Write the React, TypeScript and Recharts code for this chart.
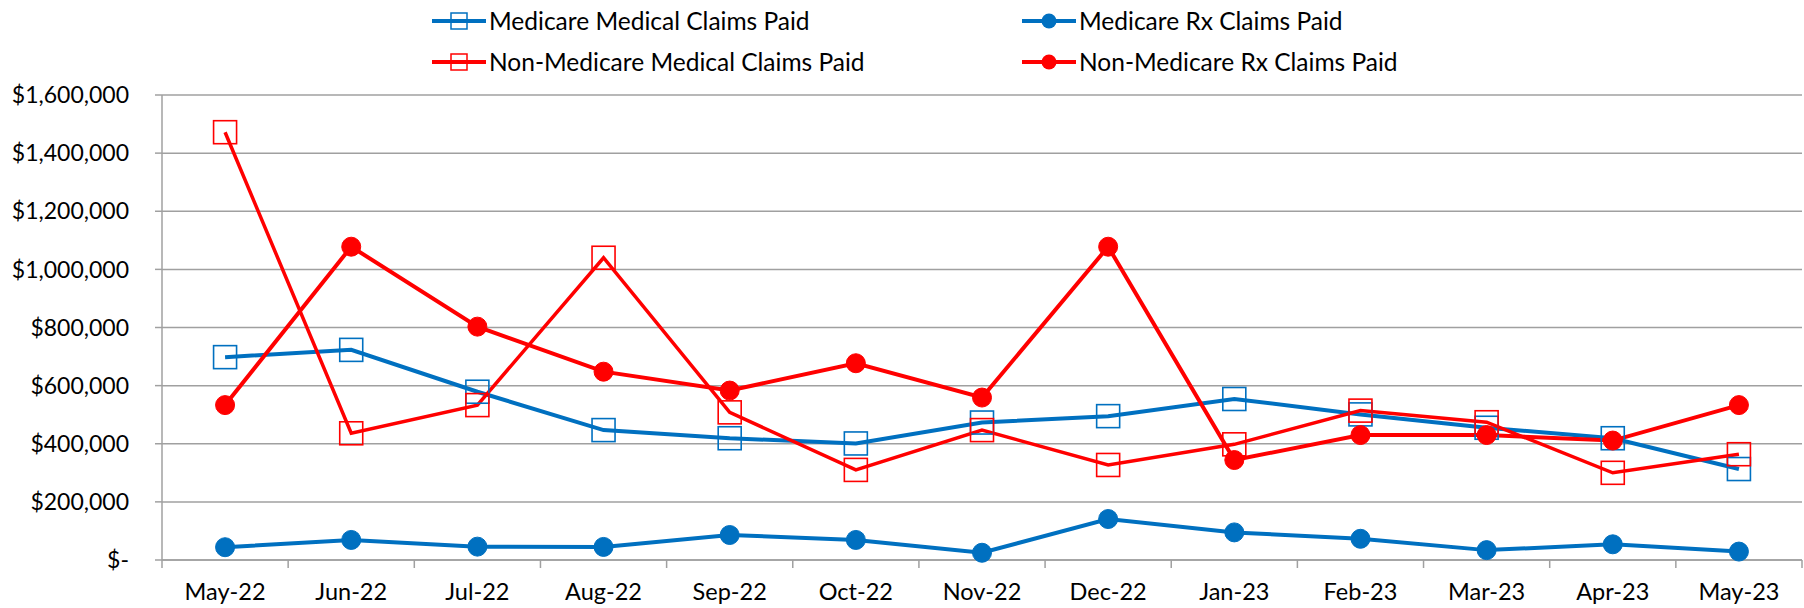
import React from 'react';
import { ComposedChart, Line, XAxis, YAxis, CartesianGrid, Legend } from 'recharts';

const categories = ['May-22', 'Jun-22', 'Jul-22', 'Aug-22', 'Sep-22', 'Oct-22', 'Nov-22', 'Dec-22', 'Jan-23', 'Feb-23', 'Mar-23', 'Apr-23', 'May-23'];
const medicareMedical = [698000, 723000, 579000, 447000, 419000, 401000, 473000, 495000, 554000, 501000, 455000, 419000, 313000];
const medicareRx = [44000, 69000, 46000, 45000, 86000, 69000, 25000, 141000, 95000, 73000, 34000, 54000, 29000];
const nonMedicareMedical = [1472000, 436000, 533000, 1040000, 508000, 310000, 447000, 327000, 398000, 514000, 474000, 300000, 364000];
const nonMedicareRx = [533000, 1078000, 803000, 648000, 583000, 677000, 559000, 1078000, 344000, 430000, 430000, 411000, 533000];
const yTicks = [0, 200000, 400000, 600000, 800000, 1000000, 1200000, 1400000, 1600000];

const BLUE = '#0070C0';
const RED = '#FF0000';
const GRID = '#A0A0A0';
const FONT = 'Lato, "DejaVu Sans", sans-serif';

const W = 1804;
const H = 608;
const M_LEFT = 0;
const Y_W = 162;
const M_RIGHT = 2;
const PLOT_W = W - M_LEFT - Y_W - M_RIGHT;
const BW = PLOT_W / categories.length;

const data = categories.map((c, i) => ({
  month: c,
  mm: medicareMedical[i],
  mrx: medicareRx[i],
  nmm: nonMedicareMedical[i],
  nrx: nonMedicareRx[i],
}));

const fmt = (v: number) => (v === 0 ? '$-' : '$' + v.toLocaleString('en-US'));

const SquareDot = (color: string) => (props: any) => {
  const { cx, cy } = props;
  if (cx == null || cy == null) return null;
  const s = 23;
  return <rect x={cx - s / 2} y={cy - s / 2} width={s} height={s} fill="none" stroke={color} strokeWidth={1.6} />;
};
const CircleDot = (color: string) => (props: any) => {
  const { cx, cy } = props;
  if (cx == null || cy == null) return null;
  return <circle cx={cx} cy={cy} r={9.5} fill={color} stroke={color} strokeWidth={1} />;
};

const XTick = (props: any) => {
  const { x, y, payload, index } = props;
  const axisY = y - 8;
  return (
    <g>
      <line x1={x - BW / 2} x2={x - BW / 2} y1={axisY} y2={axisY + 8} stroke={GRID} strokeWidth={1.5} />
      {index === categories.length - 1 && (
        <line x1={x + BW / 2} x2={x + BW / 2} y1={axisY} y2={axisY + 8} stroke={GRID} strokeWidth={1.5} />
      )}
      <text x={x} y={axisY + 40} textAnchor="middle" fill="#000" fontSize={23.5} fontFamily={FONT}>
        {payload.value}
      </text>
    </g>
  );
};

const legendPos: Record<string, { left: number; top: number }> = {
  mm: { left: 432, top: 21 },
  mrx: { left: 1022, top: 21 },
  nmm: { left: 432, top: 62 },
  nrx: { left: 1022, top: 62 },
};

const LegendContent = (props: any) => {
  const { payload } = props;
  return (
    <div style={{ position: 'relative', width: W, height: 90 }}>
      {(payload || []).map((p: any) => {
        const key = p.dataKey as string;
        const pos = legendPos[key];
        if (!pos) return null;
        const isSquare = key === 'mm' || key === 'nmm';
        return (
          <div key={key} style={{ position: 'absolute', left: pos.left, top: pos.top - 15, height: 30, display: 'flex', alignItems: 'center', whiteSpace: 'nowrap' }}>
            <svg width={54} height={30} style={{ display: 'block' }}>
              <line x1={0} x2={54} y1={15} y2={15} stroke={p.color} strokeWidth={4} />
              {isSquare ? (
                <rect x={27 - 8} y={15 - 8} width={16} height={16} fill="none" stroke={p.color} strokeWidth={1.5} />
              ) : (
                <circle cx={27} cy={15} r={7.5} fill={p.color} />
              )}
            </svg>
            <span style={{ marginLeft: 3, fontFamily: FONT, fontSize: 24.5, color: '#000', lineHeight: '30px' }}>{p.value}</span>
          </div>
        );
      })}
    </div>
  );
};

export default function App() {
  return (
    <div style={{ position: 'absolute', left: 0, top: 0, width: W, height: H, background: '#fff' }}>
      <ComposedChart width={W} height={H} data={data} margin={{ top: 95, right: M_RIGHT, bottom: 0, left: M_LEFT }}>
        <CartesianGrid vertical={false} stroke={GRID} strokeWidth={1.5} />
        <XAxis
          dataKey="month"
          scale="band"
          axisLine={{ stroke: GRID, strokeWidth: 1.5 }}
          tickLine={false}
          tickSize={8}
          tickMargin={0}
          height={48}
          interval={0}
          tick={<XTick />}
        />
        <YAxis
          domain={[0, 1600000]}
          ticks={yTicks}
          tickFormatter={fmt}
          width={Y_W}
          axisLine={{ stroke: GRID, strokeWidth: 1.5 }}
          tickLine={{ stroke: GRID, strokeWidth: 1.5 }}
          tickSize={7}
          tickMargin={26}
          tick={{ fill: '#000', fontSize: 23, fontFamily: FONT }}
          interval={0}
        />
        <Legend
          layout="vertical"
          align="center"
          verticalAlign="middle"
          wrapperStyle={{ top: 0, left: 0, width: W, height: 90 }}
          content={<LegendContent />}
        />
        <Line name="Medicare Medical Claims Paid" dataKey="mm" stroke={BLUE} strokeWidth={4} dot={SquareDot(BLUE)} activeDot={false} isAnimationActive={false} />
        <Line name="Medicare Rx Claims Paid" dataKey="mrx" stroke={BLUE} strokeWidth={4} dot={CircleDot(BLUE)} activeDot={false} isAnimationActive={false} />
        <Line name="Non-Medicare Medical Claims Paid" dataKey="nmm" stroke={RED} strokeWidth={3.5} dot={SquareDot(RED)} activeDot={false} isAnimationActive={false} />
        <Line name="Non-Medicare Rx Claims Paid" dataKey="nrx" stroke={RED} strokeWidth={4} dot={CircleDot(RED)} activeDot={false} isAnimationActive={false} />
      </ComposedChart>
    </div>
  );
}
